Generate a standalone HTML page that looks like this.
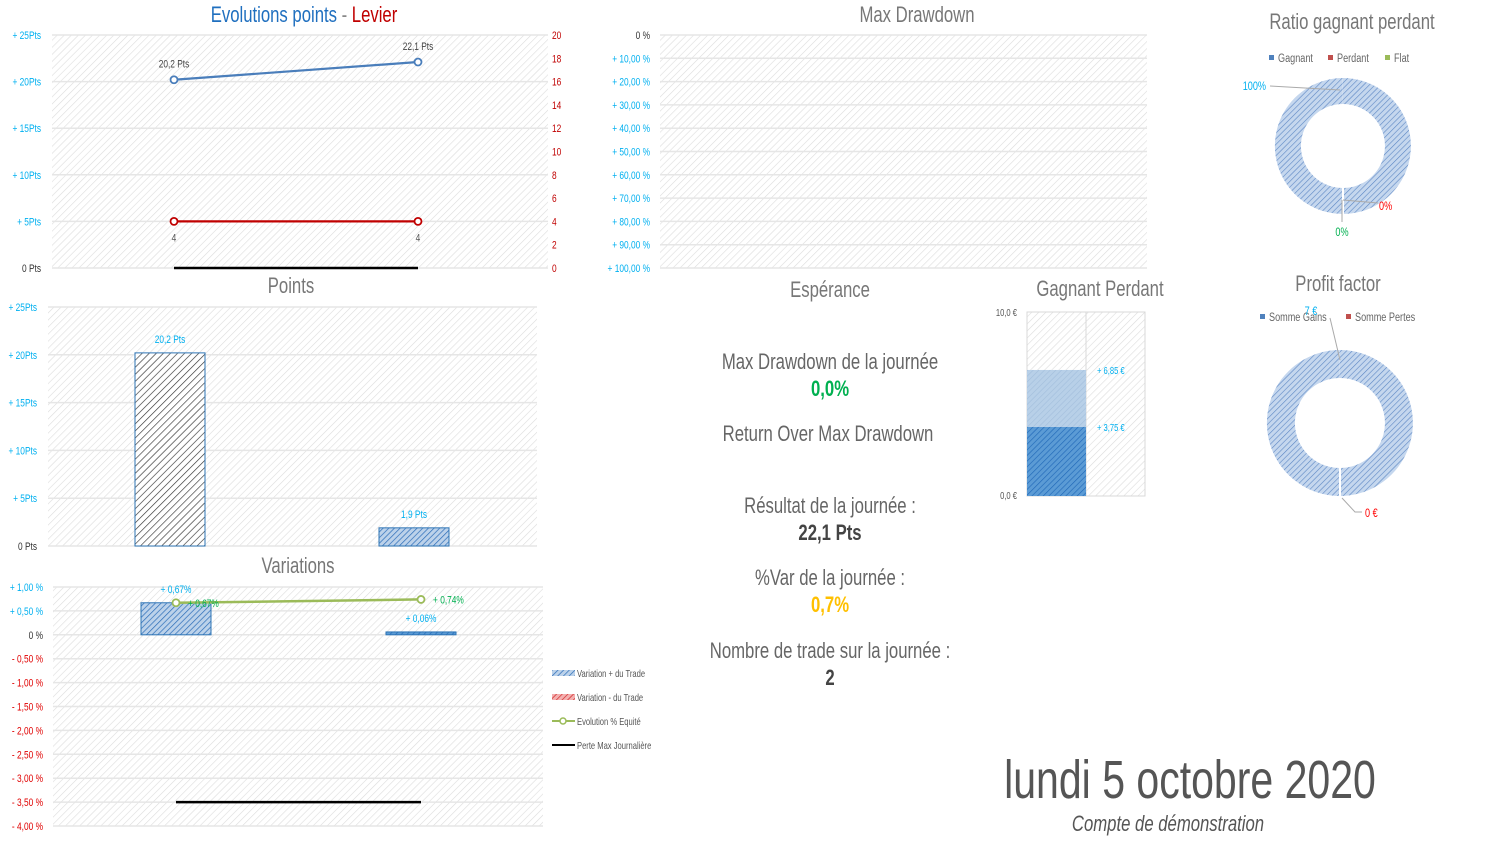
<!DOCTYPE html>
<html><head><meta charset="utf-8">
<style>
html,body{margin:0;padding:0;background:#fff;width:1495px;height:851px;overflow:hidden}
svg{display:block}
text{font-family:"Liberation Sans",sans-serif}
</style></head>
<body>
<svg id="s" width="1495" height="851" viewBox="0 0 1495 851" xmlns="http://www.w3.org/2000/svg">
<defs>
<pattern id="bg" width="5" height="5" patternUnits="userSpaceOnUse" patternTransform="rotate(45)"><rect width="5" height="5" fill="#fff"/><line x1="0" y1="0" x2="0" y2="5" stroke="#dcdcdc" stroke-width="1.2"/></pattern>
<pattern id="hb" width="4" height="4" patternUnits="userSpaceOnUse" patternTransform="rotate(45)"><rect width="4" height="4" fill="#bcd2ea"/><line x1="0" y1="0" x2="0" y2="4" stroke="#2a6cb8" stroke-width="1.4"/></pattern>
<pattern id="hk" width="5" height="5" patternUnits="userSpaceOnUse" patternTransform="rotate(45)"><rect width="5" height="5" fill="#fff"/><line x1="0" y1="0" x2="0" y2="5" stroke="#333" stroke-width="1.3"/></pattern>
<pattern id="hd" width="4" height="4" patternUnits="userSpaceOnUse" patternTransform="rotate(45)"><rect width="4" height="4" fill="#5b9bd5"/><line x1="0" y1="0" x2="0" y2="4" stroke="#2068b8" stroke-width="1.3"/></pattern>
<pattern id="hl" width="4" height="4" patternUnits="userSpaceOnUse" patternTransform="rotate(45)"><rect width="4" height="4" fill="#b8d0e8"/><line x1="0" y1="0" x2="0" y2="4" stroke="#a2bedc" stroke-width="1.2"/></pattern>
<pattern id="hdon" width="4" height="4" patternUnits="userSpaceOnUse" patternTransform="rotate(45)"><rect width="4" height="4" fill="#c5d7ee"/><line x1="0" y1="0" x2="0" y2="4" stroke="#5b86c4" stroke-width="1.2"/></pattern>
<pattern id="hr" width="4" height="4" patternUnits="userSpaceOnUse" patternTransform="rotate(45)"><rect width="4" height="4" fill="#f3b0b0"/><line x1="0" y1="0" x2="0" y2="4" stroke="#d02020" stroke-width="1.3"/></pattern>
</defs>
</svg>
<script>
// ---- data ----
const categories = ["Trade 1","Trade 2"];
const cumulPoints = [20.2, 22.1];
const leverage = [4, 4];
const tradePoints = [20.2, 1.9];
const variationPos = [0.67, 0.06];
const equityEvolution = [0.67, 0.74];
const perteMax = [-3.5, -3.5];
const ptsTicks = [0, 5, 10, 15, 20, 25];
const levTicks = [0, 2, 4, 6, 8, 10, 12, 14, 16, 18, 20];
const varTicks = [1, 0.5, 0, -0.5, -1, -1.5, -2, -2.5, -3, -3.5, -4];
const ddTicks = [0, 10, 20, 30, 40, 50, 60, 70, 80, 90, 100];
const gagnantPerdant = [3.75, 6.85];
const ratioValues = [100, 0, 0];
const profitValues = [7, 0];

const S = document.getElementById('s');
const NS = 'http://www.w3.org/2000/svg';
const SX = 0.76;
function el(tag, attrs, txt){const e=document.createElementNS(NS,tag);for(const k in attrs)e.setAttribute(k,attrs[k]);if(txt!==undefined)e.textContent=txt;S.appendChild(e);return e;}
function tx(x,y,t,size,fill,anchor,name){const e=el('text',{x:0,y:0,transform:`translate(${x},${y}) scale(${SX},1)`,'font-size':size,fill:fill,'text-anchor':anchor||'middle'},t);


return e;}
function fmt(v,d){return v.toFixed(d).replace('.',',');}
function plotBg(x0,y0,x1,y1,name){const r=el('rect',{x:x0,y:y0,width:x1-x0,height:y1-y0,fill:'url(#bg)'});

}
function grid(x0,x1,y){el('line',{x1:x0,x2:x1,y1:y,y2:y,stroke:'#e6e6e6','stroke-width':1.5});}

// ---- Chart 1 ----
(function(){
 const x0=52,x1=548,y0=35,y1=268;
 const xs=[174,418];
 const yL=v=>y1-(v/25)*(y1-y0), yR=v=>y1-(v/20)*(y1-y0);
 plotBg(x0,y0,x1,y1,'evolution-plot-area');
 ptsTicks.forEach(t=>{grid(x0,x1,yL(t));tx(41,yL(t)+4,t===0?'0 Pts':'+ '+t+'Pts',11,t===0?'#333':'#00b0f0','end','y-axis-tick');});
 levTicks.forEach(t=>tx(552,yR(t)+4,String(t),11,'#c00000','start','y2-axis-tick'));
 const tl=el('text',{x:0,y:0,transform:`translate(304,22) scale(${SX},1)`,'font-size':22,'text-anchor':'middle'});
 tl.innerHTML='<tspan fill="#1f6fbf">Evolutions points</tspan><tspan fill="#888"> - </tspan><tspan fill="#c00000">Levier</tspan>';
 
 
 const bl=el('line',{x1:xs[0],x2:xs[1],y1:yL(0),y2:yL(0),stroke:'#000','stroke-width':2.5});
 
 
 const p1=el('polyline',{points:cumulPoints.map((v,i)=>xs[i]+','+yL(v)).join(' '),fill:'none',stroke:'#4a7ebb','stroke-width':2.2});
 
 
 const p2=el('polyline',{points:leverage.map((v,i)=>xs[i]+','+yR(v)).join(' '),fill:'none',stroke:'#c00000','stroke-width':2.2});
 
 
 cumulPoints.forEach((v,i)=>{const c=el('circle',{cx:xs[i],cy:yL(v),r:3.5,fill:'#fff',stroke:'#4a7ebb','stroke-width':1.8});
  
  
  tx(xs[i],yL(v)-12,fmt(v,1)+' Pts',11,'#444','middle','points-value-label');});
 leverage.forEach((v,i)=>{const c=el('circle',{cx:xs[i],cy:yR(v),r:3.5,fill:'#fff',stroke:'#c00000','stroke-width':1.8});
  
  
  tx(xs[i],yR(v)+20,String(v),11,'#555','middle','leverage-value-label');});
})();

// ---- Chart 2: Points ----
(function(){
 const x0=48,x1=537,y0=307,y1=546;
 const xs=[170,414],bw=70;
 const y=v=>y1-(v/25)*(y1-y0);
 plotBg(x0,y0,x1,y1,'points-plot-area');
 tx(291,293,'Points',22,'#777','middle','points-chart-title');
 ptsTicks.forEach(t=>{grid(x0,x1,y(t));tx(37,y(t)+4,t===0?'0 Pts':'+ '+t+'Pts',11,t===0?'#333':'#00b0f0','end','y-axis-tick');});
 tradePoints.forEach((v,i)=>{
  const r=el('rect',{x:xs[i]-bw/2,y:y(v),width:bw,height:y1-y(v),fill:i===0?'url(#hk)':'url(#hb)',stroke:'#2e75b6','stroke-width':1});
  
  
  tx(xs[i],y(v)-10,fmt(v,1)+' Pts',11,'#00b0f0','middle','bar-value-label');
 });
})();

// ---- Chart 3: Variations ----
(function(){
 const x0=53,x1=543,y0=587,y1=826;
 const xs=[176,421],bw=70;
 const y=v=>y0+(1-v)/5*(y1-y0);
 plotBg(x0,y0,x1,y1,'variations-plot-area');
 tx(298,573,'Variations',22,'#777','middle','variations-chart-title');
 varTicks.forEach(t=>{grid(x0,x1,y(t));
  const lab=t===0?'0 %':(t>0?'+ ':'- ')+fmt(Math.abs(t),2)+' %';
  tx(43,y(t)+4,lab,11,t===0?'#333':(t>0?'#00b0f0':'#e00000'),'end','y-axis-tick');});
 variationPos.forEach((v,i)=>{
  const r=el('rect',{x:xs[i]-bw/2,y:y(v),width:bw,height:y(0)-y(v),fill:i===0?'url(#hb)':'url(#hd)',stroke:'#2e75b6','stroke-width':1});
  
  
  tx(xs[i],y(v)-10,'+ '+fmt(v,2)+'%',11,'#00b0f0','middle','bar-value-label');
 });
 const bl=el('polyline',{points:perteMax.map((v,i)=>xs[i]+','+y(v)).join(' '),stroke:'#000','stroke-width':2.5,fill:'none'});
 
 
 const gl=el('polyline',{points:equityEvolution.map((v,i)=>xs[i]+','+y(v)).join(' '),stroke:'#9bbb59','stroke-width':2.5,fill:'none'});
 
 
 equityEvolution.forEach((v,i)=>{const c=el('circle',{cx:xs[i],cy:y(v),r:3.5,fill:'#fff',stroke:'#9bbb59','stroke-width':1.8});
  
  
  tx(xs[i]+12,y(v)+4,'+ '+fmt(v,2)+'%',11,'#00b050','start','equity-value-label');});
 const L=[['url(#hb)','Variation + du Trade'],['url(#hr)','Variation - du Trade'],['g','Evolution % Equité'],['k','Perte Max Journalière']];
 L.forEach((l,i)=>{const yy=673+i*24;
  if(l[0]==='g'){el('line',{x1:552,x2:575,y1:yy,y2:yy,stroke:'#9bbb59','stroke-width':2});el('circle',{cx:563,cy:yy,r:3,fill:'#fff',stroke:'#9bbb59','stroke-width':1.5});}
  else if(l[0]==='k'){el('line',{x1:552,x2:575,y1:yy,y2:yy,stroke:'#000','stroke-width':2});}
  else el('rect',{x:552,y:yy-3,width:23,height:6,fill:l[0]});
  tx(577,yy+4,l[1],10,'#555','start','legend-entry');});
})();

// ---- Max Drawdown ----
(function(){
 const x0=660,x1=1147,y0=35,y1=268;
 const y=v=>y0+v/100*(y1-y0);
 plotBg(x0,y0,x1,y1,'max-drawdown-plot-area');
 tx(917,22,'Max Drawdown',22,'#777','middle','max-drawdown-title');
 ddTicks.forEach(t=>{grid(x0,x1,y(t));tx(650,y(t)+4,t===0?'0 %':'+ '+t+',00 %',11,t===0?'#333':'#00b0f0','end','y-axis-tick');});
})();

// ---- KPI texts ----
tx(830,297,'Espérance',22,'#777','middle','esperance-title');
tx(830,369,'Max Drawdown de la journée',22,'#666','middle','max-drawdown-day-label');
tx(830,396,'0,0%',22,'#00b050','middle','max-drawdown-day-value').setAttribute('font-weight','bold');
tx(828,441,'Return Over Max Drawdown',22,'#666','middle','romad-label');
tx(830,513,'Résultat de la journée :',22,'#666','middle','result-day-label');
tx(830,540,'22,1 Pts',22,'#444','middle','result-day-value').setAttribute('font-weight','bold');
tx(830,585,'%Var de la journée :',22,'#666','middle','var-day-label');
tx(830,612,'0,7%',22,'#ffc000','middle','var-day-value').setAttribute('font-weight','bold');
tx(830,658,'Nombre de trade sur la journée :',22,'#666','middle','trade-count-label');
tx(830,685,'2',22,'#444','middle','trade-count-value').setAttribute('font-weight','bold');
tx(1190,798,'lundi 5 octobre 2020',54,'#555','middle','date-title');
tx(1168,831,'Compte de démonstration',22,'#555','middle','account-subtitle').setAttribute('font-style','italic');

// ---- Gagnant Perdant ----
(function(){
 const x0=1027,xm=1086,x1=1145,y0=312,y1=496;
 const y=v=>y1-v/10*(y1-y0);
 tx(1100,296,'Gagnant Perdant',22,'#777','middle','gagnant-perdant-title');
 const bg=el('rect',{x:x0,y:y0,width:x1-x0,height:y1-y0,fill:'url(#bg)',stroke:'#d9d9d9'});
 
 
 el('line',{x1:xm,x2:xm,y1:y0,y2:y1,stroke:'#d9d9d9'});
 tx(1017,316,'10,0 €',10,'#555','end','y-axis-tick');
 tx(1017,499,'0,0 €',10,'#555','end','y-axis-tick');
 const r2=el('rect',{x:x0,y:y(gagnantPerdant[1]),width:xm-x0,height:y(0)-y(gagnantPerdant[1]),fill:'url(#hl)'});
 
 
 const r1=el('rect',{x:x0,y:y(gagnantPerdant[0]),width:xm-x0,height:y(0)-y(gagnantPerdant[0]),fill:'url(#hd)'});
 
 
 gagnantPerdant.forEach(v=>tx(1097,y(v)+4,'+ '+fmt(v,2)+' €',10,'#00b0f0','start','bar-value-label'));
})();

// ---- Donuts ----
function donut(cx,cy,ro,ri,values,name){
 const tot=values.reduce((a,b)=>a+b,0)||1;let a=0;
 const P=(r,t)=>(cx+r*Math.sin(t)).toFixed(2)+' '+(cy-r*Math.cos(t)).toFixed(2);
 values.forEach((v,i)=>{if(v<=0)return;let f=v/tot;
  if(f>0.9995)f=0.9995;
  const a2=a+f*2*Math.PI,lg=f>0.5?1:0;
  const p=`M${P(ro,a)}A${ro} ${ro} 0 ${lg} 1 ${P(ro,a2)}L${P(ri,a2)}A${ri} ${ri} 0 ${lg} 0 ${P(ri,a)}Z`;
  const s=el('path',{d:p,fill:'url(#hdon)'});
  
  
  a+=f*2*Math.PI;});
}
(function(){
 const cx=1343,cy=146;
 tx(1352,29,'Ratio gagnant perdant',22,'#777','middle','ratio-chart-title');
 [['#4f81bd','Gagnant',1269],['#c0504d','Perdant',1328],['#9bbb59','Flat',1385]].forEach(l=>{el('rect',{x:l[2],y:55,width:5,height:5,fill:l[0]});tx(l[2]+9,62,l[1],12,'#666','start','legend-entry');});
 donut(cx,cy,68,42,ratioValues,'ratio-donut-slice');
 el('line',{x1:cx,x2:cx,y1:cy+40,y2:cy+69,stroke:'#fff','stroke-width':2});
 el('polyline',{points:'1270,86 1340,90',stroke:'#aaa',fill:'none'});
 tx(1266,90,fmt(ratioValues[0],0)+'%',12,'#00b0f0','end','ratio-gagnant-label');
 el('polyline',{points:'1342,200 1342,222',stroke:'#aaa',fill:'none'});
 el('polyline',{points:'1343,200 1378,203',stroke:'#aaa',fill:'none'});
 tx(1379,210,fmt(ratioValues[1],0)+'%',12,'#ff0000','start','ratio-perdant-label');
 tx(1342,236,fmt(ratioValues[2],0)+'%',12,'#00b050','middle','ratio-flat-label');
})();
(function(){
 const cx=1340,cy=423;
 tx(1338,291,'Profit factor',22,'#777','middle','profit-factor-title');
 [['#4f81bd','Somme Gains',1260],['#c0504d','Somme Pertes',1346]].forEach(l=>{el('rect',{x:l[2],y:314,width:5,height:5,fill:l[0]});tx(l[2]+9,321,l[1],12,'#666','start','legend-entry');});
 donut(cx,cy,73,45,profitValues,'profit-donut-slice');
 el('line',{x1:cx,x2:cx,y1:cy+43,y2:cy+74,stroke:'#fff','stroke-width':2});
 el('polyline',{points:'1330,318 1340,360',stroke:'#aaa',fill:'none'});
 tx(1311,315,fmt(profitValues[0],0)+' €',12,'#00b0f0','middle','profit-gains-label');
 el('polyline',{points:'1342,498 1355,512 1362,512',stroke:'#aaa',fill:'none'});
 tx(1365,517,fmt(profitValues[1],0)+' €',12,'#ff0000','start','profit-pertes-label');
})();
</script>
</body></html>
